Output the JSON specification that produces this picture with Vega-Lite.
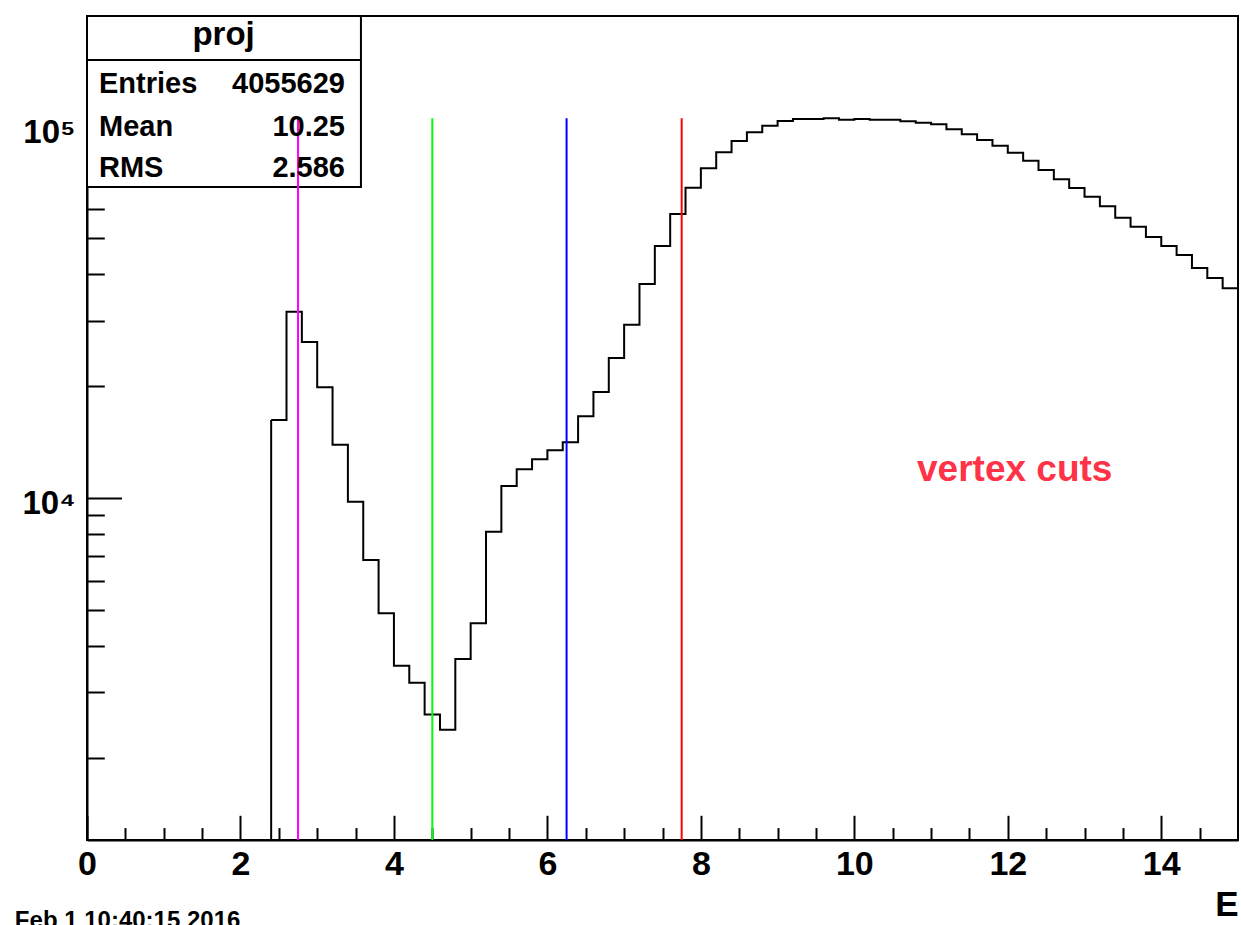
{
  "$schema": "https://vega.github.io/schema/vega-lite/v6.json",
  "width": 1151,
  "height": 824,
  "autosize": {"type": "none"},
  "padding": {"left": 87, "top": 16, "right": 3, "bottom": 85},
  "background": "white",
  "config": {"view": {"stroke": "black", "strokeWidth": 2}, "font": "Liberation Sans"},
  "datasets": {
    "bins": [
      {"lo": 2.4, "hi": 2.6, "n": 16205}, {"lo": 2.6, "hi": 2.8, "n": 31680}, {"lo": 2.8, "hi": 3.0, "n": 26270},
      {"lo": 3.0, "hi": 3.2, "n": 19840}, {"lo": 3.2, "hi": 3.4, "n": 13910}, {"lo": 3.4, "hi": 3.6, "n": 9774},
      {"lo": 3.6, "hi": 3.8, "n": 6813}, {"lo": 3.8, "hi": 4.0, "n": 4898}, {"lo": 4.0, "hi": 4.2, "n": 3541},
      {"lo": 4.2, "hi": 4.4, "n": 3188}, {"lo": 4.4, "hi": 4.6, "n": 2616}, {"lo": 4.6, "hi": 4.8, "n": 2383},
      {"lo": 4.8, "hi": 5.0, "n": 3692}, {"lo": 5.0, "hi": 5.2, "n": 4605}, {"lo": 5.2, "hi": 5.4, "n": 8116},
      {"lo": 5.4, "hi": 5.6, "n": 10771}, {"lo": 5.6, "hi": 5.8, "n": 11946}, {"lo": 5.8, "hi": 6.0, "n": 12706},
      {"lo": 6.0, "hi": 6.2, "n": 13437}, {"lo": 6.2, "hi": 6.4, "n": 14114}, {"lo": 6.4, "hi": 6.6, "n": 16582},
      {"lo": 6.6, "hi": 6.8, "n": 19275}, {"lo": 6.8, "hi": 7.0, "n": 23785}, {"lo": 7.0, "hi": 7.2, "n": 29240},
      {"lo": 7.2, "hi": 7.4, "n": 37610}, {"lo": 7.4, "hi": 7.6, "n": 47580}, {"lo": 7.6, "hi": 7.8, "n": 58000},
      {"lo": 7.8, "hi": 8.0, "n": 68260}, {"lo": 8.0, "hi": 8.2, "n": 76970}, {"lo": 8.2, "hi": 8.4, "n": 84990},
      {"lo": 8.4, "hi": 8.6, "n": 91140}, {"lo": 8.6, "hi": 8.8, "n": 96180}, {"lo": 8.8, "hi": 9.0, "n": 100190},
      {"lo": 9.0, "hi": 9.2, "n": 103140}, {"lo": 9.2, "hi": 9.4, "n": 104420}, {"lo": 9.4, "hi": 9.6, "n": 104420},
      {"lo": 9.6, "hi": 9.8, "n": 104880}, {"lo": 9.8, "hi": 10.0, "n": 103970}, {"lo": 10.0, "hi": 10.2, "n": 104420},
      {"lo": 10.2, "hi": 10.4, "n": 103970}, {"lo": 10.4, "hi": 10.6, "n": 103970}, {"lo": 10.6, "hi": 10.8, "n": 102950},
      {"lo": 10.8, "hi": 11.0, "n": 102070}, {"lo": 11.0, "hi": 11.2, "n": 101060}, {"lo": 11.2, "hi": 11.4, "n": 97970},
      {"lo": 11.4, "hi": 11.6, "n": 95000}, {"lo": 11.6, "hi": 11.8, "n": 91700}, {"lo": 11.8, "hi": 12.0, "n": 88510},
      {"lo": 12.0, "hi": 12.2, "n": 84770}, {"lo": 12.2, "hi": 12.4, "n": 80660}, {"lo": 12.4, "hi": 12.6, "n": 76170},
      {"lo": 12.6, "hi": 12.8, "n": 71910}, {"lo": 12.8, "hi": 13.0, "n": 68130}, {"lo": 13.0, "hi": 13.2, "n": 64560},
      {"lo": 13.2, "hi": 13.4, "n": 60830}, {"lo": 13.4, "hi": 13.6, "n": 56690}, {"lo": 13.6, "hi": 13.8, "n": 53610},
      {"lo": 13.8, "hi": 14.0, "n": 50290}, {"lo": 14.0, "hi": 14.2, "n": 47580}, {"lo": 14.2, "hi": 14.4, "n": 45000},
      {"lo": 14.4, "hi": 14.6, "n": 41530}, {"lo": 14.6, "hi": 14.8, "n": 39040}, {"lo": 14.8, "hi": 15.0, "n": 36630}
    ],
    "cuts": [
      {"cut": 2.75, "name": "m"}, {"cut": 4.5, "name": "g"}, {"cut": 6.25, "name": "b"}, {"cut": 7.75, "name": "r"}
    ],
    "one": [{}]
  },
  "layer": [
    {
      "data": {"name": "one"},
      "mark": {"type": "rect", "fill": "white", "stroke": "black", "strokeWidth": 2},
      "encoding": {
        "x": {"datum": 0, "type": "quantitative"},
        "x2": {"datum": 3.57},
        "y": {"datum": 68540, "type": "quantitative"},
        "y2": {"datum": 197600}
      }
    },
    {
      "data": {"name": "one"},
      "mark": {"type": "rule", "color": "black", "strokeWidth": 2},
      "encoding": {
        "x": {"datum": 0, "type": "quantitative"},
        "x2": {"datum": 3.57},
        "y": {"datum": 150400, "type": "quantitative"}
      }
    },
    {
      "data": {"name": "bins"},
      "transform": [{"fold": ["lo", "hi"], "as": ["edge", "E"]}],
      "mark": {"type": "line", "color": "black", "strokeWidth": 2, "strokeJoin": "miter"},
      "encoding": {
        "x": {
          "field": "E", "type": "quantitative",
          "scale": {"domain": [0, 15], "nice": false, "zero": false},
          "axis": {
            "values": [0, 0.5, 1, 1.5, 2, 2.5, 3, 3.5, 4, 4.5, 5, 5.5, 6, 6.5, 7, 7.5, 8, 8.5, 9, 9.5, 10, 10.5, 11, 11.5, 12, 12.5, 13, 13.5, 14, 14.5],
            "tickCount": 200,
            "labelExpr": "datum.value % 2 == 0 ? format(datum.value, 'd') : ''",
            "tickSize": {"condition": {"test": "datum.value % 2 == 0", "value": -24.7}, "value": -12.4},
            "tickColor": "black", "tickWidth": 2,
            "domainColor": "black", "domainWidth": 2,
            "grid": false,
            "labelFont": "Liberation Sans", "labelFontWeight": "bold", "labelFontSize": 34, "labelColor": "black",
            "labelPadding": 32, "labelOverlap": false, "labelFlush": false,
            "title": "E", "titleFont": "Liberation Sans", "titleFontWeight": "bold", "titleFontSize": 35, "titleColor": "black",
            "titleAnchor": "end", "titleAlign": "right", "titlePadding": -6
          }
        },
        "y": {
          "field": "n", "type": "quantitative",
          "scale": {"type": "log", "domain": [1203.8, 197600], "nice": false},
          "axis": {
            "values": [2000, 3000, 4000, 5000, 6000, 7000, 8000, 9000, 10000, 20000, 30000, 40000, 50000, 60000, 70000, 80000, 90000, 100000],
            "tickCount": 200,
            "labelExpr": "datum.value == 10000 ? '10⁴' : datum.value == 100000 ? '10⁵' : ''",
            "tickSize": {"condition": {"test": "datum.value == 10000 || datum.value == 100000", "value": -34.5}, "value": -17.3},
            "tickColor": "black", "tickWidth": 2,
            "domainColor": "black", "domainWidth": 2,
            "grid": false,
            "labelFont": "Liberation Sans", "labelFontWeight": "bold", "labelFontSize": 33, "labelColor": "black",
            "labelPadding": 46.5, "labelOffset": 6, "labelOverlap": false, "labelFlush": false,
            "title": null
          }
        },
        "order": [{"field": "lo"}, {"field": "edge", "sort": "descending"}]
      }
    },
    {
      "data": {"name": "one"},
      "mark": {"type": "rule", "color": "black", "strokeWidth": 2},
      "encoding": {
        "x": {"datum": 2.4, "type": "quantitative"},
        "y": {"datum": 1203.8, "type": "quantitative"},
        "y2": {"datum": 16205}
      }
    },
    {
      "data": {"name": "cuts"},
      "mark": {"type": "rule", "strokeWidth": 2},
      "encoding": {
        "x": {"field": "cut", "type": "quantitative"},
        "y": {"datum": 1203.8, "type": "quantitative"},
        "y2": {"datum": 104880},
        "color": {"field": "name", "type": "nominal", "scale": {"domain": ["m", "g", "b", "r"], "range": ["#ff00ff", "#00ff00", "#0000ff", "#ff0000"]}, "legend": null}
      }
    },
    {
      "data": {"name": "one"},
      "mark": {"type": "text", "text": "proj", "font": "Liberation Sans", "fontWeight": "bold", "fontSize": 33, "align": "center", "baseline": "alphabetic", "color": "black"},
      "encoding": {"x": {"datum": 1.78, "type": "quantitative"}, "y": {"datum": 165100, "type": "quantitative"}}
    },
    {
      "data": {"name": "one"},
      "mark": {"type": "text", "text": "Entries", "font": "Liberation Sans", "fontWeight": "bold", "fontSize": 29, "align": "left", "baseline": "alphabetic", "color": "black"},
      "encoding": {"x": {"datum": 0.156, "type": "quantitative"}, "y": {"datum": 122670, "type": "quantitative"}}
    },
    {
      "data": {"name": "one"},
      "mark": {"type": "text", "text": "4055629", "font": "Liberation Sans", "fontWeight": "bold", "fontSize": 29, "align": "right", "baseline": "alphabetic", "color": "black"},
      "encoding": {"x": {"datum": 3.362, "type": "quantitative"}, "y": {"datum": 122670, "type": "quantitative"}}
    },
    {
      "data": {"name": "one"},
      "mark": {"type": "text", "text": "Mean", "font": "Liberation Sans", "fontWeight": "bold", "fontSize": 29, "align": "left", "baseline": "alphabetic", "color": "black"},
      "encoding": {"x": {"datum": 0.156, "type": "quantitative"}, "y": {"datum": 93990, "type": "quantitative"}}
    },
    {
      "data": {"name": "one"},
      "mark": {"type": "text", "text": "10.25", "font": "Liberation Sans", "fontWeight": "bold", "fontSize": 29, "align": "right", "baseline": "alphabetic", "color": "black"},
      "encoding": {"x": {"datum": 3.362, "type": "quantitative"}, "y": {"datum": 93990, "type": "quantitative"}}
    },
    {
      "data": {"name": "one"},
      "mark": {"type": "text", "text": "RMS", "font": "Liberation Sans", "fontWeight": "bold", "fontSize": 29, "align": "left", "baseline": "alphabetic", "color": "black"},
      "encoding": {"x": {"datum": 0.156, "type": "quantitative"}, "y": {"datum": 72940, "type": "quantitative"}}
    },
    {
      "data": {"name": "one"},
      "mark": {"type": "text", "text": "2.586", "font": "Liberation Sans", "fontWeight": "bold", "fontSize": 29, "align": "right", "baseline": "alphabetic", "color": "black"},
      "encoding": {"x": {"datum": 3.362, "type": "quantitative"}, "y": {"datum": 72940, "type": "quantitative"}}
    },
    {
      "data": {"name": "one"},
      "mark": {"type": "text", "text": "vertex cuts", "font": "Liberation Sans", "fontWeight": "bold", "fontSize": 37, "align": "center", "baseline": "alphabetic", "color": "#ff3348"},
      "encoding": {"x": {"datum": 12.09, "type": "quantitative"}, "y": {"datum": 11110, "type": "quantitative"}}
    },
    {
      "data": {"name": "one"},
      "mark": {"type": "text", "text": "Feb  1 10:40:15 2016", "font": "Liberation Sans", "fontWeight": "bold", "fontSize": 24, "align": "left", "baseline": "alphabetic", "color": "black"},
      "encoding": {"x": {"datum": -0.94, "type": "quantitative"}, "y": {"datum": 700, "type": "quantitative"}}
    }
  ]
}
